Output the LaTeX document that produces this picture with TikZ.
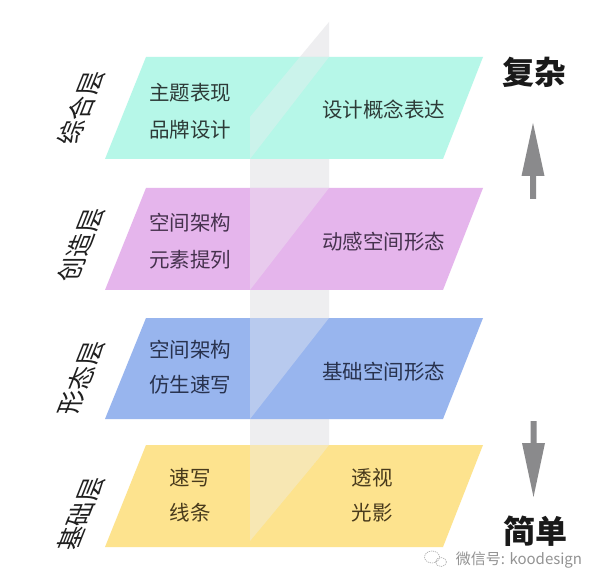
\documentclass[tikz,border=0pt]{standalone}
\usepackage{fontspec}
\setmainfont{Noto Sans CJK SC}
\begin{document}
\begin{tikzpicture}[x=1pt,y=-1pt,
  ltxt/.style={font=\fontsize{20.5}{24}\selectfont, inner sep=0pt, anchor=west},
  ctxt/.style={font=\fontsize{20.5}{24}\selectfont, inner sep=0pt, anchor=center},
  lbl/.style={font=\fontsize{26}{30}\selectfont, inner sep=0pt, text=black!88, cm={0.37,0.93,-1,0,(0,0)}},
  big/.style={font=\fontsize{32}{36}\selectfont\bfseries, inner sep=0pt, text=black!90},
  arrowfill/.style={fill=arrowgray, draw=none},
  planefill/.style={fill=planegray, draw=none},
  overlay/.style={fill=planegray, fill opacity=0.38, draw=none}
]
\definecolor{tealc}{RGB}{182,247,232}
\definecolor{pinkc}{RGB}{229,181,236}
\definecolor{bluec}{RGB}{152,181,238}
\definecolor{yellc}{RGB}{253,227,142}
\definecolor{planegray}{RGB}{238,238,240}
\definecolor{arrowgray}{RGB}{138,138,140}
\definecolor{ttxt}{RGB}{45,58,55}
\definecolor{ptxt}{RGB}{70,50,78}
\definecolor{btxt}{RGB}{40,50,78}
\definecolor{ytxt}{RGB}{72,58,28}
\useasboundingbox (0,0) rectangle (600,588);
\fill[white] (0,0) rectangle (600,588);
% vertical plane (behind)
\path[planefill] (250,117) -- (329,22) -- (329,446) -- (250,541) -- cycle;
% layers
\fill[tealc] (146,57) -- (483,57) -- (443,159) -- (105,159) -- cycle;
\fill[pinkc] (146,188) -- (483,188) -- (443,290) -- (105,290) -- cycle;
\fill[bluec] (146,318) -- (483,318) -- (443,419) -- (105,419) -- cycle;
\fill[yellc] (146,445) -- (483,445) -- (443,547) -- (105,547) -- cycle;
% plane parts in front of the layers
\foreach \t/\b in {57/159,188/290,318/419,445/547}{
  \begin{scope}
    \clip (250,\t) -- (329,\t) -- (250,\b) -- cycle;
    \path[overlay] (250,117) -- (329,22) -- (329,446) -- (250,541) -- cycle;
  \end{scope}
}
% texts
\node[ltxt, text=ttxt] (t1a) at (149,93) {主题表现};
\node[ltxt, text=ttxt] (t1b) at (149,130) {品牌设计};
\node[ctxt, text=ttxt] (t1c) at (383.5,110) {设计概念表达};
\node[ltxt, text=ptxt] (t2a) at (149,223) {空间架构};
\node[ltxt, text=ptxt] (t2b) at (149,260) {元素提列};
\node[ctxt, text=ptxt] (t2c) at (383.5,242) {动感空间形态};
\node[ltxt, text=btxt] (t3a) at (149,350) {空间架构};
\node[ltxt, text=btxt] (t3b) at (149,385) {仿生速写};
\node[ctxt, text=btxt] (t3c) at (383.5,372) {基础空间形态};
\node[ctxt, text=ytxt] (t4a) at (190,478) {速写};
\node[ctxt, text=ytxt] (t4b) at (190,513) {线条};
\node[ctxt, text=ytxt] (t4c) at (372,478) {透视};
\node[ctxt, text=ytxt] (t4d) at (372,513) {光影};
% layer labels
\node[lbl] (l1) at (81,108) {综合层};
\node[lbl] (l2) at (81,245) {创造层};
\node[lbl] (l3) at (81,378) {形态层};
\node[lbl] (l4) at (81,514) {基础层};
% right side
\node[big] (complex) at (534.5,72) {复杂};
\node[big] (simple) at (535,531) {简单};
\path[arrowfill] (533,123) -- (544.5,176) -- (536,176) -- (536,199) -- (530,199) -- (530,176) -- (521.5,176) -- cycle;
\path[arrowfill] (530.5,421) -- (536.5,421) -- (536.5,443) -- (545,443) -- (533.5,497) -- (522,443) -- (530.5,443) -- cycle;
% watermark
\draw[gray!70, line width=0.6pt, dash pattern=on 1.2pt off 0.9pt] (432,557) ellipse [x radius=7.5pt, y radius=6pt];
\draw[gray!70, line width=0.6pt, dash pattern=on 1.2pt off 0.9pt] (441,562) ellipse [x radius=5.5pt, y radius=4.5pt];
\node[font=\fontsize{15}{18}\selectfont, text=gray!85, inner sep=0pt] (wm) at (519,560) {微信号: koodesign};
\end{tikzpicture}
\end{document}
